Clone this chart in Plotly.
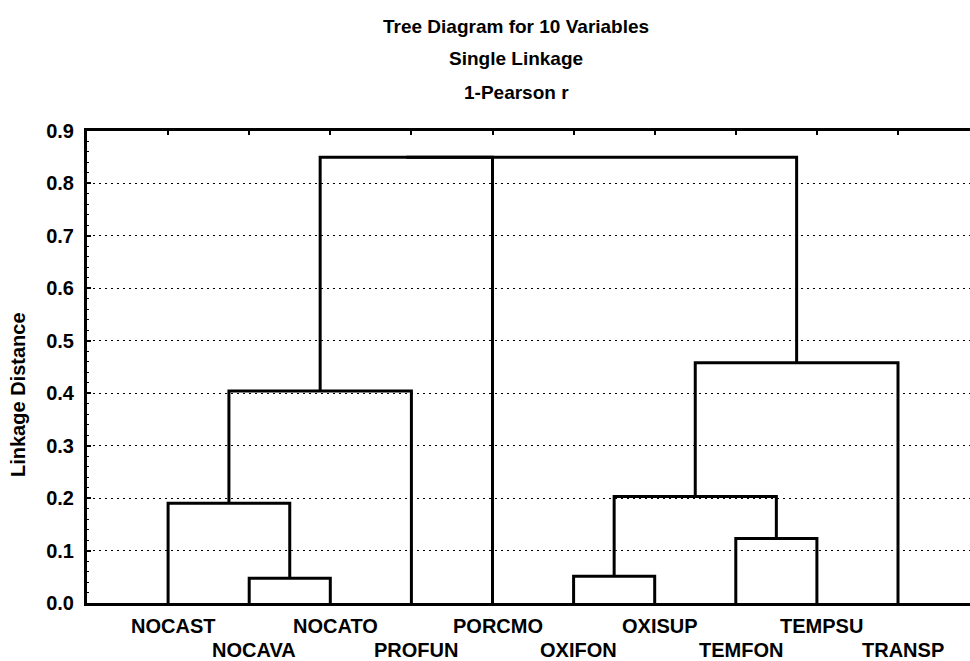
import plotly.graph_objects as go

# ---- data ----
leaves = ["NOCAST", "NOCAVA", "NOCATO", "PROFUN", "PORCMO",
          "OXIFON", "OXISUP", "TEMFON", "TEMPSU", "TRANSP"]
# merges: (child a, child b, linkage distance); new cluster ids start at len(leaves)
merge_a = [1, 5, 7, 0, 11, 13, 14, 15, 17]
merge_b = [2, 6, 8, 10, 12, 3, 9, 4, 16]
merge_h = [0.047, 0.051, 0.123, 0.19, 0.203, 0.404, 0.458, 0.85, 0.85]
y_ticks = [0.0, 0.1, 0.2, 0.3, 0.4, 0.5, 0.6, 0.7, 0.8, 0.9]
titles = ["Tree Diagram for 10 Variables", "Single Linkage", "1-Pearson r"]
y_title = "Linkage Distance"

# ---- build dendrogram segments ----
pos = {i: (i + 1, 0.0) for i in range(len(leaves))}
xs, ys = [], []
for k, (a, b, h) in enumerate(zip(merge_a, merge_b, merge_h)):
    xa, ya = pos[a]
    xb, yb = pos[b]
    xs += [xa, xa, xb, xb, None]
    ys += [ya, h, h, yb, None]
    pos[len(leaves) + k] = ((xa + xb) / 2, h)

FONT = "Arial, Liberation Sans, sans-serif"
fig = go.Figure()
fig.add_trace(go.Scatter(x=xs, y=ys, mode="lines",
                         line=dict(color="black", width=3),
                         hoverinfo="skip", showlegend=False))

W, H = 970, 661
L, T, B = 87, 131, 58
plot_h = H - T - B
plot_w = W - L

fig.update_layout(
    width=W, height=H,
    margin=dict(l=L, r=0, t=T, b=B),
    paper_bgcolor="white", plot_bgcolor="white",
    font=dict(family=FONT, color="black", size=20, weight="bold"),
    showlegend=False,
)
fig.update_xaxes(
    range=[0, plot_w / 81.1], showgrid=False, zeroline=False,
    showline=True, linewidth=3, linecolor="black", mirror="ticks",
    tickmode="array", tickvals=list(range(1, len(leaves) + 1)),
    ticks="inside", ticklen=4, tickwidth=2, tickcolor="black",
    showticklabels=False, fixedrange=True,
)
fig.update_yaxes(
    range=[0, 0.9], tickmode="array", tickvals=y_ticks,
    ticktext=[f"{v:.1f}" for v in y_ticks],
    showline=True, linewidth=3, linecolor="black",
    ticks="inside", ticklen=4, tickwidth=2, tickcolor="black",
    minor=dict(ticks="inside", dtick=0.02, ticklen=2, tickwidth=1, tickcolor="black", showgrid=False),
    showgrid=True, gridcolor="black", gridwidth=1, griddash="2px,4px",
    zeroline=False, tickfont=dict(size=20, family=FONT, weight="bold"),
    ticklabelstandoff=6, fixedrange=True,
)

# staggered leaf labels
for i, name in enumerate(leaves):
    row_y = 626 if i % 2 == 0 else 650
    fig.add_annotation(x=i + 1, xref="x", y=(H - B - row_y) / plot_h, yref="paper",
                       text=name, showarrow=False, xshift=5,
                       xanchor="center", yanchor="middle",
                       font=dict(size=20, family=FONT, weight="bold"))

# titles
for t, yy in zip(titles, [26, 58, 92]):
    fig.add_annotation(x=(516 - L) / plot_w, xref="paper", y=(H - B - yy) / plot_h, yref="paper",
                       text=t, showarrow=False, xanchor="center", yanchor="middle",
                       font=dict(size=19, family=FONT, weight="bold"))

# y axis title
fig.add_annotation(x=(18 - L) / plot_w, xref="paper", y=(H - B - 395) / plot_h, yref="paper",
                   text=y_title, textangle=-90, showarrow=False,
                   xanchor="center", yanchor="middle",
                   font=dict(size=20, family=FONT, weight="bold"))

fig.write_html("out.html", config={"displayModeBar": False},
               post_script="document.body.style.margin='0px';document.body.style.overflow='hidden';")
